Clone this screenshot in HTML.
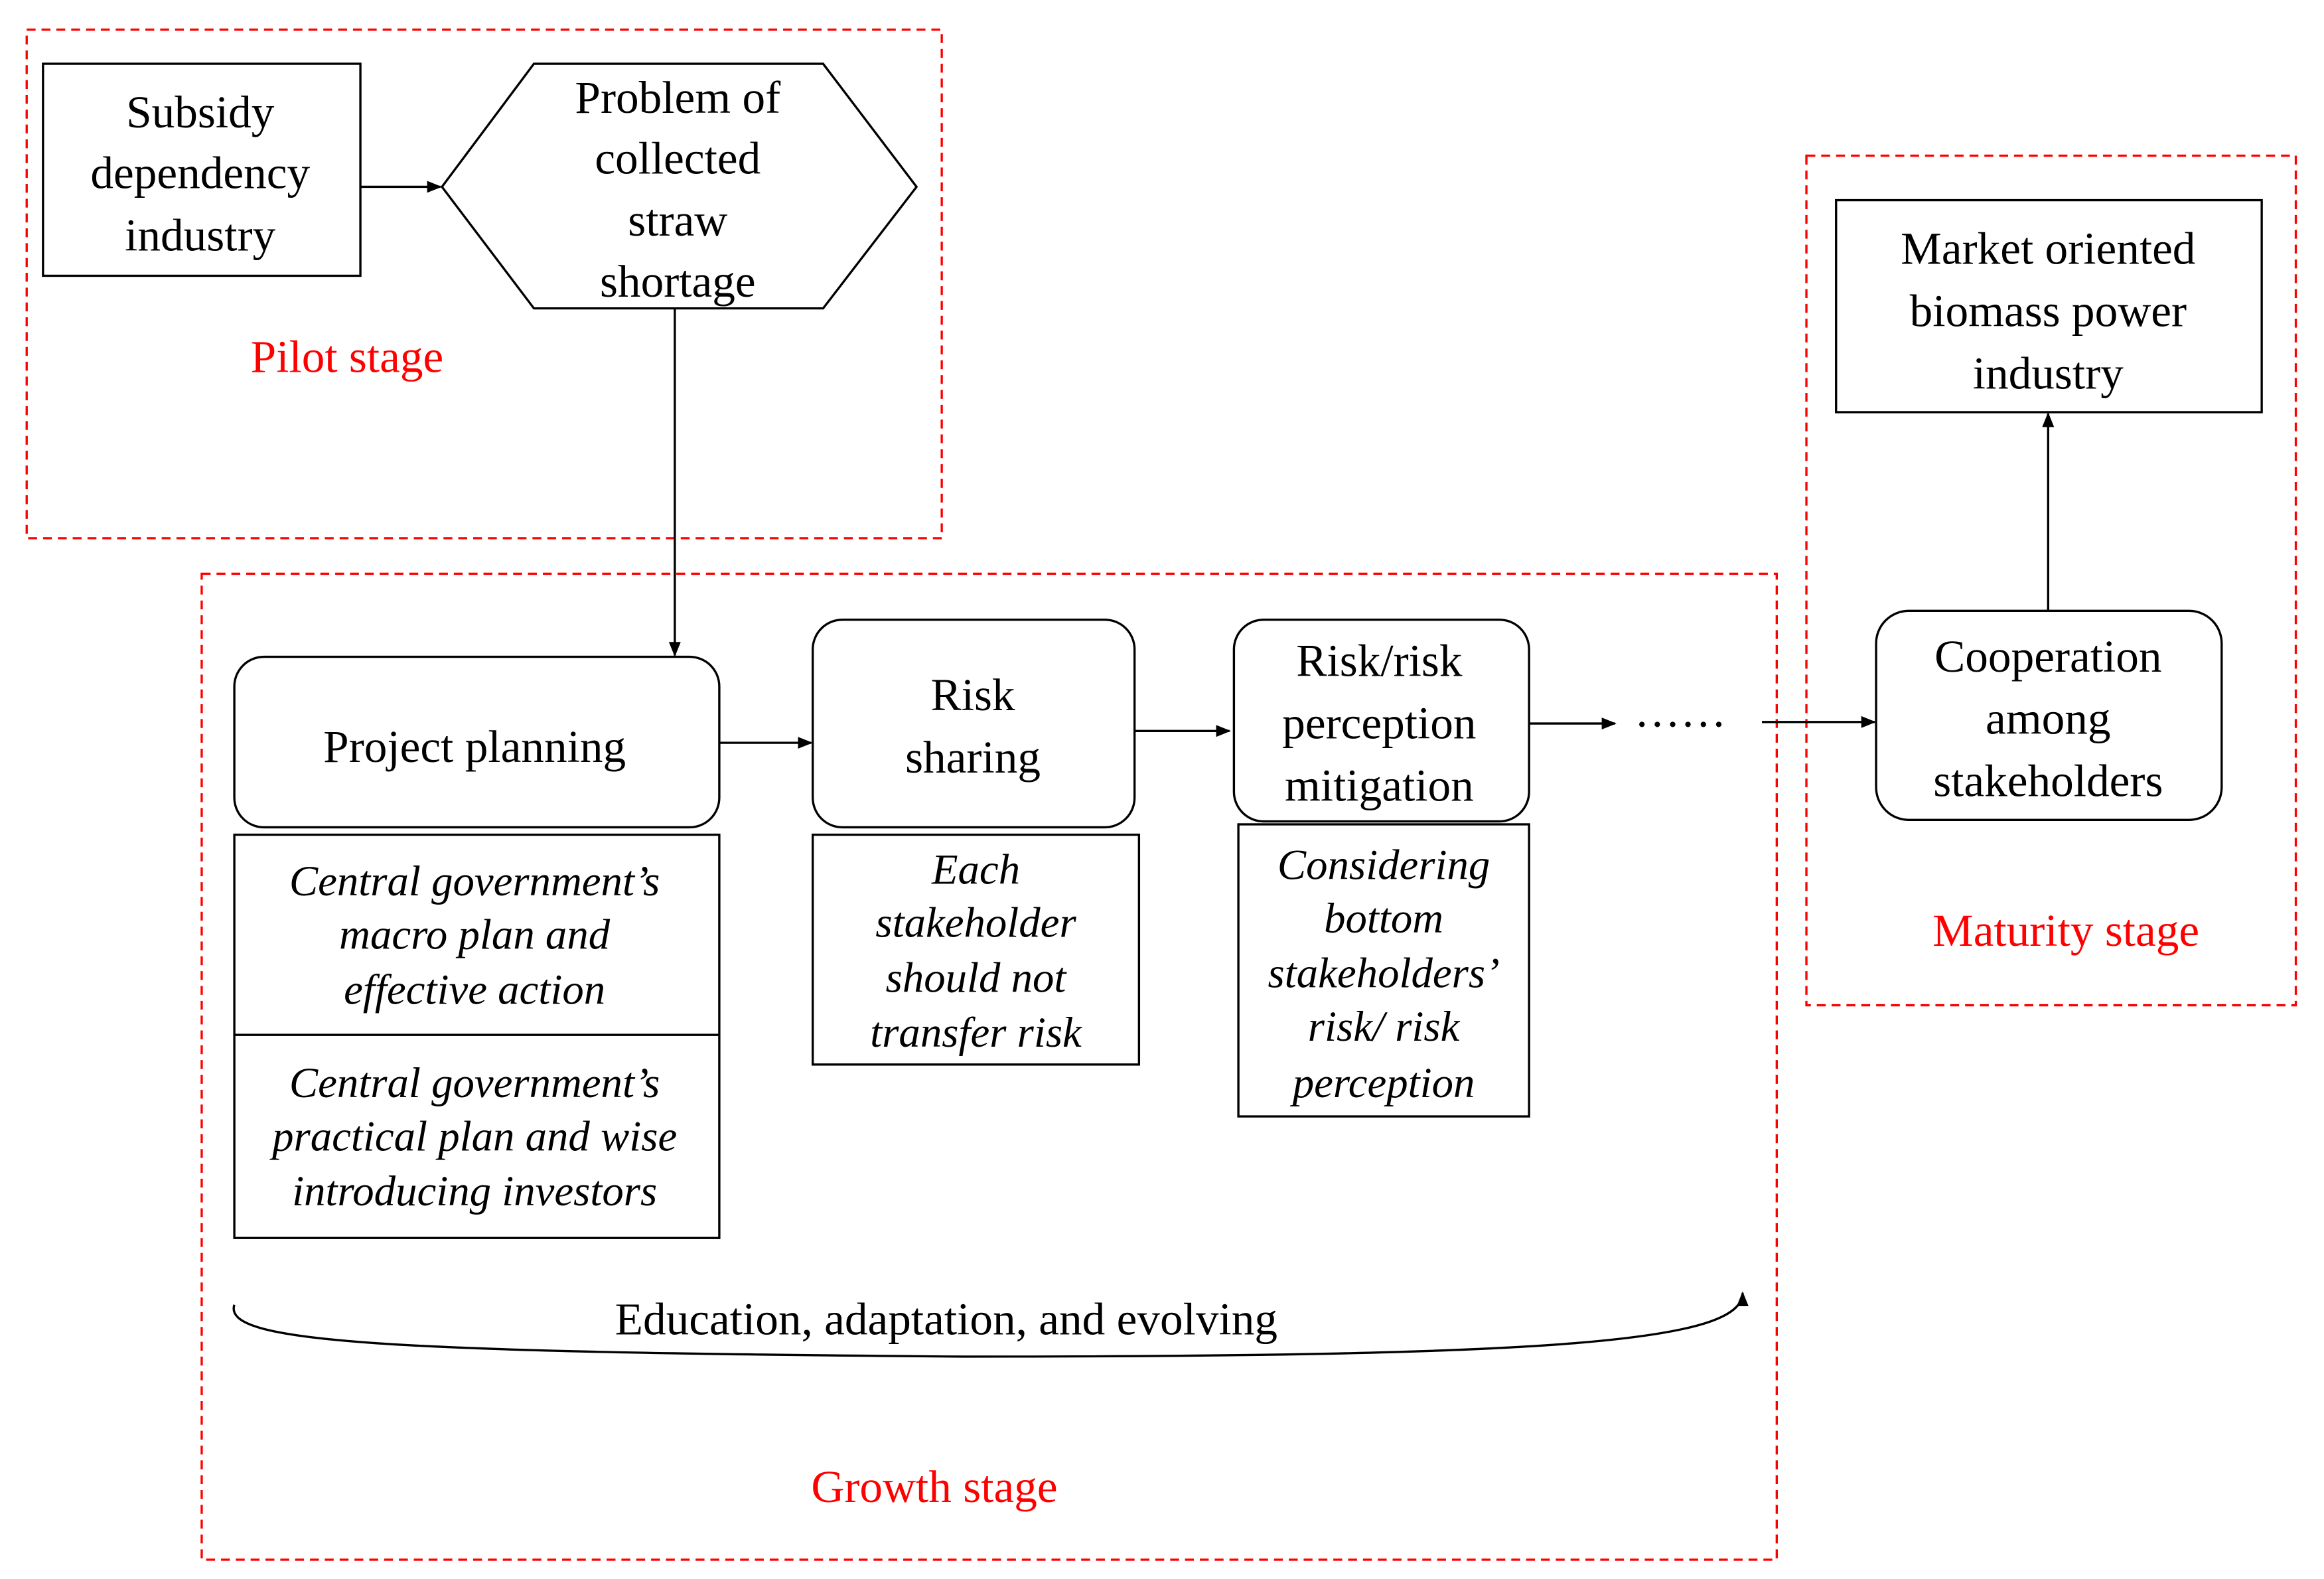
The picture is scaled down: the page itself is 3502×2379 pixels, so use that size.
<!DOCTYPE html>
<html><head><meta charset="utf-8"><style>
html,body{margin:0;padding:0;background:#fff;}
svg{display:block;}
text{font-family:"Liberation Serif",serif;fill:#000;}
.n{font-size:31px;}
.i{font-size:29px;font-style:italic;}
.r{font-size:31px;fill:#ff0000;}
</style></head><body>
<svg width="3502" height="2379" viewBox="0 0 1567 1065" preserveAspectRatio="none" xmlns="http://www.w3.org/2000/svg">
<defs><marker id="a" markerWidth="10" markerHeight="10" refX="9" refY="5" orient="auto" markerUnits="userSpaceOnUse"><path d="M0,1 L10,5 L0,9 z" fill="#000"/></marker></defs>
<g fill="none" stroke="#ff0000" stroke-width="1.5" stroke-dasharray="6,4">
<rect x="18" y="20" width="617" height="343"/>
<rect x="136" y="387" width="1062" height="665"/>
<rect x="1218" y="105" width="330" height="573"/>
</g>
<g fill="none" stroke="#000" stroke-width="1.5">
<rect x="29" y="43" width="214" height="143"/>
<polygon points="298,126 360,43 555,43 618,126 555,208 360,208"/>
<rect x="158" y="443" width="327" height="115" rx="20"/>
<rect x="158" y="563" width="327" height="272"/>
<line x1="158" y1="698" x2="485" y2="698"/>
<rect x="548" y="418" width="217" height="140" rx="20"/>
<rect x="548" y="563" width="220" height="155"/>
<rect x="832" y="418" width="199" height="136" rx="20"/>
<rect x="835" y="556" width="196" height="197"/>
<rect x="1238" y="135" width="287" height="143"/>
<rect x="1265" y="412" width="233" height="141" rx="22"/>
<line x1="243" y1="126" x2="297" y2="126" marker-end="url(#a)"/>
<line x1="455" y1="208" x2="455" y2="442" marker-end="url(#a)"/>
<line x1="485" y1="501" x2="547" y2="501" marker-end="url(#a)"/>
<line x1="765" y1="493" x2="829" y2="493" marker-end="url(#a)"/>
<line x1="1031" y1="488" x2="1089" y2="488" marker-end="url(#a)"/>
<line x1="1188" y1="487" x2="1264" y2="487" marker-end="url(#a)"/>
<line x1="1381" y1="412" x2="1381" y2="279" marker-end="url(#a)"/>
<path d="M158,880 C150,905 250,912 650,915 C1050,915 1175,905 1175,872" marker-end="url(#a)"/>
</g>
<g text-anchor="middle">
<text class="n" x="135" y="86">Subsidy</text>
<text class="n" x="135" y="127">dependency</text>
<text class="n" x="135" y="169">industry</text>
<text class="n" x="457" y="76">Problem of</text>
<text class="n" x="457" y="117">collected</text>
<text class="n" x="457" y="159">straw</text>
<text class="n" x="457" y="200">shortage</text>
<text class="r" x="234" y="251">Pilot stage</text>
<text class="n" x="320" y="514">Project planning</text>
<text class="i" x="320" y="604">Central government’s</text>
<text class="i" x="320" y="640">macro plan and</text>
<text class="i" x="320" y="677">effective  action</text>
<text class="i" x="320" y="740">Central government’s</text>
<text class="i" x="320" y="776">practical plan and wise</text>
<text class="i" x="320" y="813">introducing investors</text>
<text class="n" x="656" y="479">Risk</text>
<text class="n" x="656" y="521">sharing</text>
<text class="i" x="658" y="596">Each</text>
<text class="i" x="658" y="632">stakeholder</text>
<text class="i" x="658" y="669">should not</text>
<text class="i" x="658" y="706">transfer risk</text>
<text class="n" x="930" y="456">Risk/risk</text>
<text class="n" x="930" y="498">perception</text>
<text class="n" x="930" y="540">mitigation</text>
<text class="i" x="933" y="593">Considering</text>
<text class="i" x="933" y="629">bottom</text>
<text class="i" x="933" y="666">stakeholders’</text>
<text class="i" x="933" y="702">risk/ risk</text>
<text class="i" x="933" y="740">perception</text>
<text class="n" x="1133" y="490">……</text>
<text class="n" x="1381" y="178">Market oriented</text>
<text class="n" x="1381" y="220">biomass power</text>
<text class="n" x="1381" y="262">industry</text>
<text class="n" x="1381" y="453">Cooperation</text>
<text class="n" x="1381" y="495">among</text>
<text class="n" x="1381" y="537">stakeholders</text>
<text class="r" x="1393" y="638">Maturity  stage</text>
<text class="n" x="638" y="900">Education, adaptation,  and evolving</text>
<text class="r" x="630" y="1013">Growth stage</text>
</g>
</svg>
</body></html>
